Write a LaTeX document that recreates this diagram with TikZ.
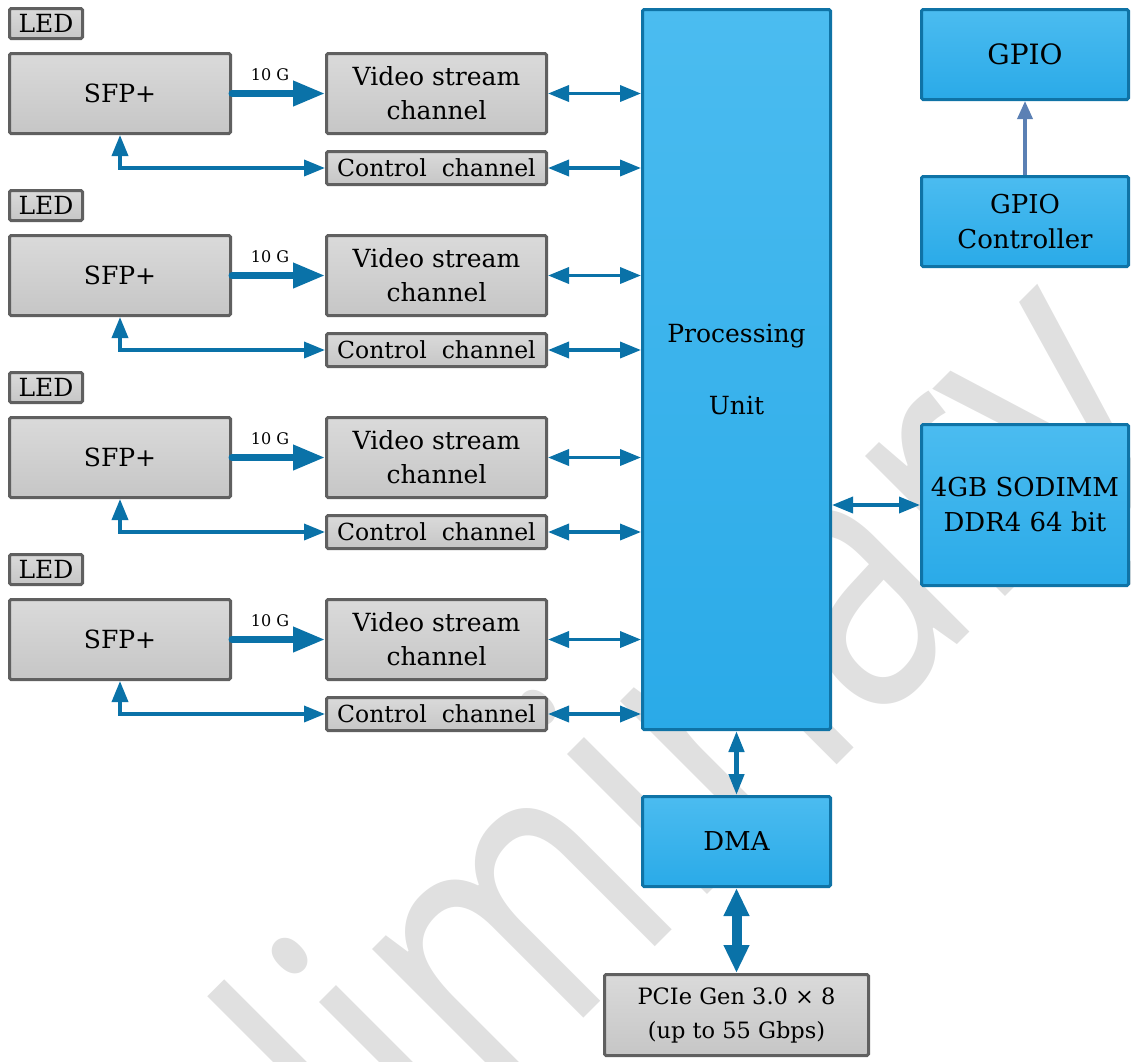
\documentclass[tikz,border=0pt]{standalone}
\usepackage{fontspec}
\setmainfont{DejaVu Serif}
\newfontfamily\wmfont{Open Sans}
\usetikzlibrary{arrows.meta}
\definecolor{gtop}{HTML}{DADADA}
\definecolor{gbot}{HTML}{C6C6C6}
\definecolor{gborder}{HTML}{606060}
\definecolor{btop}{HTML}{4BBCF0}
\definecolor{bbot}{HTML}{2AAAE8}
\definecolor{bborder}{HTML}{0F73A6}
\definecolor{arrowc}{HTML}{0A72A8}
\definecolor{gpioarr}{HTML}{5B80B4}
\definecolor{wmgray}{HTML}{E0E0E0}
\tikzset{
  boxbase/.style={line width=3pt, rounded corners=1.5pt, inner sep=0pt, align=center,
    font=\fontsize{25}{34}\selectfont},
  graybox/.style={boxbase, draw=gborder, top color=gtop, bottom color=gbot},
  bluebox/.style={boxbase, draw=bborder, top color=btop, bottom color=bbot},
  biarrow/.style={draw=arrowc, line width=3.6pt,
    {Triangle[length=21pt,width=16pt]}-{Triangle[length=21pt,width=16pt]}},
  feedarrow/.style={draw=arrowc, line width=7pt, line cap=round,
    -{Triangle[length=32pt,width=24pt]}},
  dmaarrow/.style={draw=arrowc, line width=4.5pt,
    {Triangle[length=21pt,width=15pt]}-{Triangle[length=21pt,width=15pt]}},
  pciearrow/.style={draw=arrowc, line width=10pt,
    {Triangle[length=28pt,width=24pt]}-{Triangle[length=28pt,width=24pt]}},
  gpioarrow/.style={draw=gpioarr, line width=3.5pt, -{Triangle[length=18pt,width=15pt]}},
  gtext/.style={font=\fontsize{16}{16}\selectfont, inner sep=0pt},
}
\begin{document}
\begin{tikzpicture}[x=1pt,y=-1pt]
\useasboundingbox (0,0) rectangle (1131,1061);
% watermark
\begin{scope}
\clip (0,0) rectangle (1131,1061);
\node[rotate=45, anchor=base west, inner sep=0pt, text=wmgray] (wm) at (64,1538)
  {\scalebox{0.8}[1]{\wmfont\fontsize{370}{370}\selectfont Preliminary}};
\end{scope}
% processing side
\node[bluebox, minimum width=188pt, minimum height=720pt] (pu) at (736.5,369.5) {Processing\\[38pt]Unit};
\node[bluebox, minimum width=207pt, minimum height=90pt, font=\fontsize{28}{35}\selectfont] (gpio) at (1025,54.5) {GPIO};
\node[bluebox, minimum width=207pt, minimum height=90pt, font=\fontsize{26}{35}\selectfont] (gpioc) at (1025,221.5) {GPIO\\Controller};
\node[bluebox, minimum width=207pt, minimum height=161pt, font=\fontsize{26}{35}\selectfont] (mem) at (1025,505) {4GB SODIMM\\DDR4 64 bit};
\node[bluebox, minimum width=188pt, minimum height=90pt, font=\fontsize{26}{34}\selectfont] (dma) at (736.5,841.5) {DMA};
\node[graybox, minimum width=264pt, minimum height=81pt, font=\fontsize{22.5}{34}\selectfont] (pcie) at (736.5,1015) {PCIe Gen 3.0 × 8\\(up to 55 Gbps)};
% channels
\foreach \k in {0,1,2,3}{
  \pgfmathsetmacro{\oy}{182*\k}
  \node[graybox, minimum width=73pt, minimum height=30pt] (led\k) at (46,23.5+\oy) {LED};
  \node[graybox, minimum width=221pt, minimum height=80pt] (sfp\k) at (120,93.5+\oy) {SFP+};
  \node[graybox, minimum width=220pt, minimum height=80pt] (vid\k) at (436.5,93.5+\oy) {Video stream\\channel};
  \node[graybox, minimum width=220pt, minimum height=33pt, font=\fontsize{23.5}{30}\selectfont] (ctl\k) at (436.5,168+\oy) {Control\ \ channel};
  \node[gtext] (g\k) at (270,75+\oy) {10 G};
  \draw[feedarrow] (sfp\k.east) -- (vid\k.west);
  \draw[biarrow] (sfp\k.south) |- (ctl\k.west);
  \draw[biarrow] (vid\k.east) -- (vid\k.east -| pu.west);
  \draw[biarrow] (ctl\k.east) -- (ctl\k.east -| pu.west);
}
\draw[biarrow] (mem.west -| pu.east) -- (mem.west);
\draw[dmaarrow] (pu.south) -- (dma.north);
\draw[pciearrow] (dma.south) -- (pcie.north);
\draw[gpioarrow] (gpioc.north) -- (gpio.south);
\end{tikzpicture}
\end{document}
